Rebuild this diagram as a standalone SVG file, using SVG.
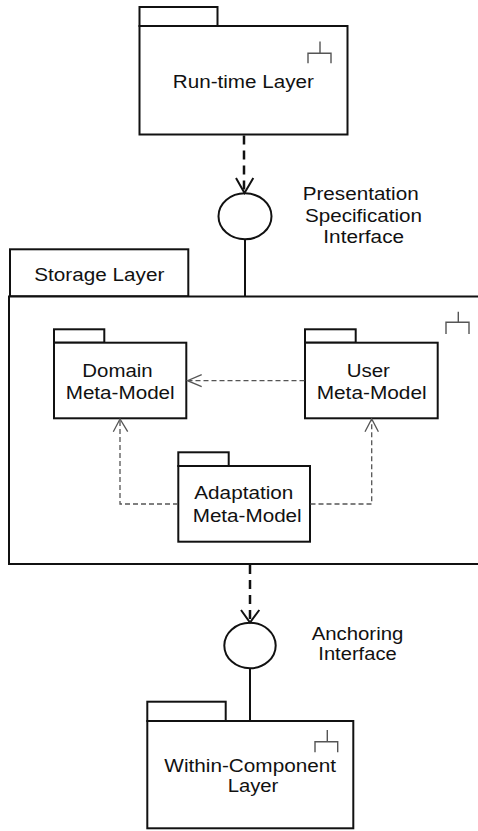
<svg xmlns="http://www.w3.org/2000/svg" width="478" height="831" viewBox="0 0 478 831">
<style>
.box{fill:#fff;stroke:#111;stroke-width:2}
.icon{fill:none;stroke:#555;stroke-width:1.4}
.t{font-family:"Liberation Sans",Arial,sans-serif;font-size:17.5px;fill:#111;text-anchor:middle}
.thick{fill:none;stroke:#111;stroke-width:2.5;stroke-dasharray:9,6}
.thin{fill:none;stroke:#555;stroke-width:1.3;stroke-dasharray:5,3}
.solid{fill:none;stroke:#111;stroke-width:2}
.head{fill:none;stroke:#111;stroke-width:2}
.headthin{fill:none;stroke:#555;stroke-width:1.3}
</style>
<rect width="478" height="831" fill="#fff"/>

<g id="runtime-layer">
<rect class="box" x="139.5" y="7" width="78" height="19"/>
<rect class="box" x="139.5" y="26" width="208" height="108.5"/>
<path class="icon" d="M320 41.5V53.3M308 63.3V53.3H331V63.3"/>
<text class="t" x="243.3" y="87.7" textLength="141" lengthAdjust="spacingAndGlyphs">Run-time Layer</text>
</g>

<g id="presentation-interface">
<ellipse cx="245" cy="216.3" rx="26.5" ry="23" fill="#fff" stroke="#111" stroke-width="2"/>
<text class="t" x="360.7" y="200" textLength="116" lengthAdjust="spacingAndGlyphs">Presentation</text>
<text class="t" x="363.5" y="221.7" textLength="117" lengthAdjust="spacingAndGlyphs">Specification</text>
<text class="t" x="363.7" y="243.3" textLength="80.7" lengthAdjust="spacingAndGlyphs">Interface</text>
</g>

<g id="storage-layer">
<rect class="box" x="10" y="249.3" width="178.3" height="47"/>
<rect class="box" x="9" y="296.5" width="475" height="267.5"/>
<path class="icon" d="M458.3 311.7V322.3M446 334V322.3H469V334"/>
<text class="t" x="99.3" y="280.7" textLength="130" lengthAdjust="spacingAndGlyphs">Storage Layer</text>
</g>

<g id="domain-meta-model">
<rect class="box" x="54" y="329.3" width="50.3" height="13.4"/>
<rect class="box" x="54" y="342.7" width="132.3" height="75.6"/>
<text class="t" x="117.5" y="376.7" textLength="70.4" lengthAdjust="spacingAndGlyphs">Domain</text>
<text class="t" x="120.2" y="399" textLength="109" lengthAdjust="spacingAndGlyphs">Meta-Model</text>
</g>

<g id="user-meta-model">
<rect class="box" x="305" y="329.3" width="50.7" height="13.4"/>
<rect class="box" x="305" y="342.7" width="132.7" height="75.6"/>
<text class="t" x="368.3" y="376.7" textLength="43.3" lengthAdjust="spacingAndGlyphs">User</text>
<text class="t" x="371.7" y="399" textLength="110" lengthAdjust="spacingAndGlyphs">Meta-Model</text>
</g>

<g id="adaptation-meta-model">
<rect class="box" x="178.3" y="452.3" width="50.4" height="13.7"/>
<rect class="box" x="178.3" y="466" width="131.7" height="75.7"/>
<text class="t" x="243.8" y="499.3" textLength="99" lengthAdjust="spacingAndGlyphs">Adaptation</text>
<text class="t" x="247.2" y="521.7" textLength="109" lengthAdjust="spacingAndGlyphs">Meta-Model</text>
</g>

<g id="anchoring-interface">
<ellipse cx="250" cy="645.5" rx="25.7" ry="22.8" fill="#fff" stroke="#111" stroke-width="2"/>
<text class="t" x="357.5" y="640" textLength="91.7" lengthAdjust="spacingAndGlyphs">Anchoring</text>
<text class="t" x="357.5" y="660" textLength="78.3" lengthAdjust="spacingAndGlyphs">Interface</text>
</g>

<g id="within-component-layer">
<rect class="box" x="147.3" y="701.7" width="78.4" height="19.3"/>
<rect class="box" x="147.3" y="721" width="206" height="107.3"/>
<path class="icon" d="M327.3 730V741.7M315 752.3V741.7H337.7V752.3"/>
<text class="t" x="250.2" y="772.3" textLength="171.7" lengthAdjust="spacingAndGlyphs">Within-Component</text>
<text class="t" x="253" y="791.7" textLength="50.7" lengthAdjust="spacingAndGlyphs">Layer</text>
</g>

<g id="connectors">
<path class="thick" d="M244 135.5V192"/>
<path class="head" d="M236 178L244.5 193L253.3 178"/>
<path class="solid" d="M245 239.3V296"/>
<path class="thin" d="M304.5 380.7H188"/>
<path class="headthin" d="M201.7 374.7L187.5 380.7L201.7 386.7"/>
<path class="thin" d="M178 504H120V420"/>
<path class="headthin" d="M113.3 431.7L120 419L127.7 431.7"/>
<path class="thin" d="M310.5 504H371.7V420"/>
<path class="headthin" d="M365 431.7L371.7 419L378.4 431.7"/>
<path class="thick" d="M250 565V621"/>
<path class="head" d="M241 610L250 622.5L259.3 610"/>
<path class="solid" d="M250 668.3V721"/>
</g>
</svg>
